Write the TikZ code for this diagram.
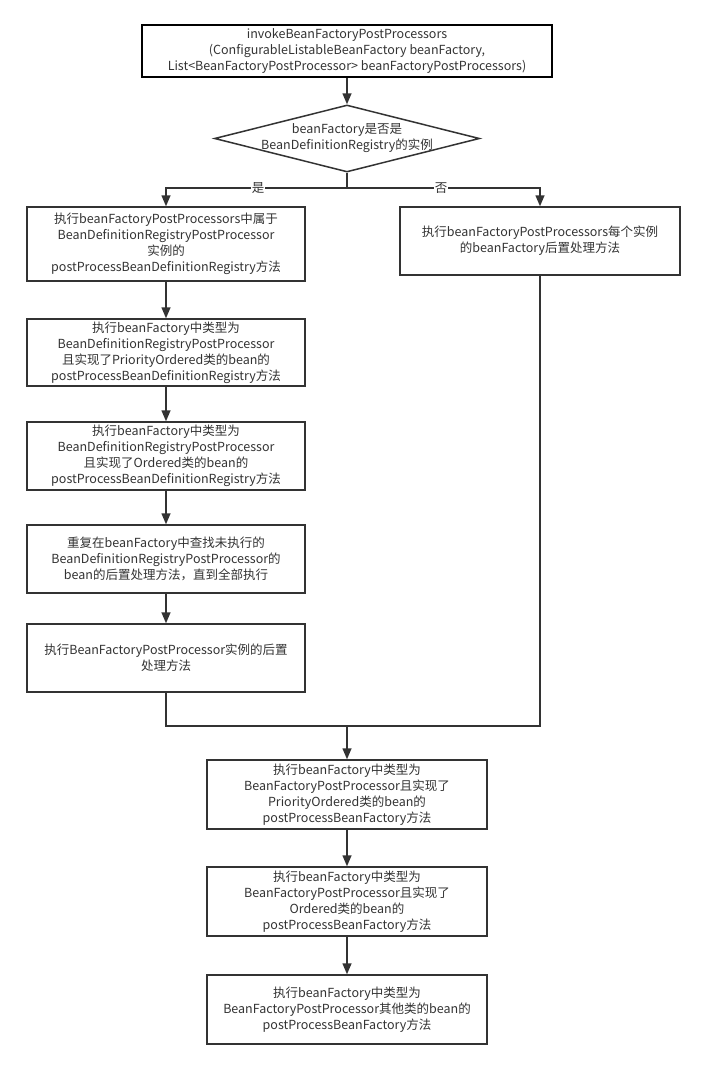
\documentclass[tikz,border=0pt]{standalone}
\usepackage{fontspec}
\setmainfont{Noto Sans CJK SC}
\usetikzlibrary{arrows.meta,shapes.geometric}
\definecolor{ink}{HTML}{333333}

\begin{document}
\begin{tikzpicture}[x=1pt, y=-1pt,
    every node/.style={font=\fontsize{12.5pt}{16pt}\selectfont, text=ink, align=center},
    box/.style={draw=ink, line width=1.5pt, fill=white, minimum width=278pt, inner sep=0pt},
    arr/.style={draw=ink, line width=1.5pt, -{Triangle[length=11pt,width=9pt]}},
    lnk/.style={draw=ink, line width=1.5pt}]
  \useasboundingbox (0,0) rectangle (705,1069);
  % start and decision
  \node[draw=black, line width=1.8pt, minimum width=410pt, minimum height=52pt, inner sep=0pt] (start) at (347,51)
    {invokeBeanFactoryPostProcessors\\(ConfigurableListableBeanFactory beanFactory,\\List<BeanFactoryPostProcessor> beanFactoryPostProcessors)};
  \node[diamond, draw=ink, line width=1.5pt, minimum width=265pt, minimum height=67pt, inner sep=0pt,
    label={center:beanFactory是否是\\BeanDefinitionRegistry的实例}] (check) at (347,138.5) {};
  % left column
  \foreach \n/\y/\h/\t in {
      l1/244/74/{执行beanFactoryPostProcessors中属于\\BeanDefinitionRegistryPostProcessor\\实例的\\postProcessBeanDefinitionRegistry方法},
      l2/352.5/67/{执行beanFactory中类型为\\BeanDefinitionRegistryPostProcessor\\且实现了PriorityOrdered类的bean的\\postProcessBeanDefinitionRegistry方法},
      l3/456/68/{执行beanFactory中类型为\\BeanDefinitionRegistryPostProcessor\\且实现了Ordered类的bean的\\postProcessBeanDefinitionRegistry方法},
      l4/559/68/{重复在beanFactory中查找未执行的\\BeanDefinitionRegistryPostProcessor的\\bean的后置处理方法，直到全部执行},
      l5/658/68/{执行BeanFactoryPostProcessor实例的后置\\处理方法}}{
    \node[box, minimum height=\h pt] (\n) at (166,\y) {\t};
  }
  \node[box, minimum width=280pt, minimum height=68pt] (right) at (540,241)
    {执行beanFactoryPostProcessors每个实例\\的beanFactory后置处理方法};
  % bottom column
  \foreach \n/\y/\t in {
      b1/794.5/{执行beanFactory中类型为\\BeanFactoryPostProcessor且实现了\\PriorityOrdered类的bean的\\postProcessBeanFactory方法},
      b2/901.5/{执行beanFactory中类型为\\BeanFactoryPostProcessor且实现了\\Ordered类的bean的\\postProcessBeanFactory方法},
      b3/1009.5/{执行beanFactory中类型为\\BeanFactoryPostProcessor其他类的bean的\\postProcessBeanFactory方法}}{
    \node[box, minimum width=280pt, minimum height=69pt] (\n) at (347,\y) {\t};
  }
  % connectors
  \coordinate (split) at (347,188);
  \coordinate (join) at (347,726);
  \draw[arr] (start) -- (check);
  \draw[lnk] (check.south) -- (split);
  \draw[arr] (split) -| (l1.north);
  \draw[arr] (split) -| (right.north);
  \node[fill=white, inner sep=1pt] (yes) at (258,188) {是};
  \node[fill=white, inner sep=1pt] (no) at (441,188) {否};
  \foreach \a/\b in {l1/l2, l2/l3, l3/l4, l4/l5, b1/b2, b2/b3}
    \draw[arr] (\a) -- (\b);
  \draw[lnk] (l5.south) |- (join) -| (right.south);
  \draw[arr] (join) -- (b1);
\end{tikzpicture}
\end{document}
